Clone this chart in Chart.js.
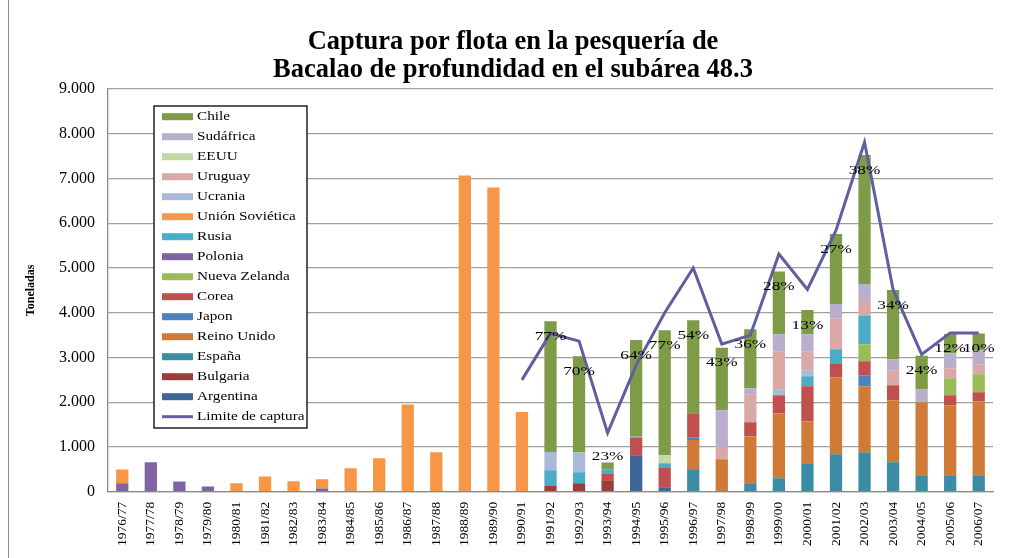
<!DOCTYPE html>
<html>
<head>
<meta charset="utf-8">
<script src="https://cdn.jsdelivr.net/npm/chart.js@4.4.1/dist/chart.umd.min.js"></script>
<style>
html,body{margin:0;padding:0;background:#fff;}
#wrap{position:relative;width:1013px;height:558px;}
#frame{position:absolute;left:8px;top:0;height:558px;border-left:1.5px solid #8c8c8c;}
</style>
</head>
<body>
<div id="wrap"><canvas id="c"></canvas><div id="frame"></div></div>
<script>
// temporadas
const seasons=['1976/77','1977/78','1978/79','1979/80','1980/81','1981/82','1982/83','1983/84','1984/85','1985/86',
  '1986/87','1987/88','1988/89','1989/90','1990/91','1991/92','1992/93','1993/94','1994/95','1995/96',
  '1996/97','1997/98','1998/99','1999/00','2000/01','2001/02','2002/03','2003/04','2004/05','2005/06','2006/07'];

// captura por flota (toneladas), 1976/77 .. 2006/07
const argentina=     [0,0,0,0,0,0,0,0,0,0,0,0,0,0,0, 0,0,0,816,100,0,0,0,0,0,0,0,0,0,0,0];
const bulgaria=      [0,0,0,0,0,0,0,0,0,0,0,0,0,0,0, 130,190,257,0,0,0,0,0,0,0,0,0,0,0,0,0];
const espana=        [0,0,0,0,0,0,0,0,0,0,0,0,0,0,0, 0,0,0,0,0,488,0,190,302,637,838,883,660,369,369,369];
const reinoUnido=    [0,0,0,0,0,0,0,0,0,0,0,0,0,0,0, 0,0,0,0,0,671,727,1051,1453,940,1722,1476,1386,1633,1565,1655];
const japon=         [0,0,0,0,0,0,0,0,0,0,0,0,0,0,0, 0,0,0,0,0,60,0,0,0,0,0,246,0,0,0,0];
const corea=         [0,0,0,0,0,0,0,0,0,0,0,0,0,0,0, 0,0,141,396,432,537,0,313,403,782,313,313,335,0,224,201];
const nuevaZelanda=  [0,0,0,0,0,0,0,0,0,0,0,0,0,0,0, 0,0,0,0,0,0,0,0,0,0,0,380,0,0,380,403];
const polonia=       [190,660,230,120,10,0,0,75,0,10,0,0,0,0,0, 0,0,0,0,0,0,0,0,0,0,0,0,0,0,0,0];
const rusia=         [0,0,0,0,0,0,0,0,0,0,0,0,0,0,0, 350,246,105,20,105,0,0,0,0,224,313,627,0,0,0,0];
const unionSovietica=[310,0,0,0,180,340,235,205,525,740,1950,880,7070,6800,1780, 0,0,0,0,0,0,0,0,0,0,0,0,0,0,0,0];
const ucrania=       [0,0,0,0,0,0,0,0,0,0,0,0,0,0,0, 410,447,0,0,0,0,0,0,134,134,0,0,0,0,0,0];
const uruguay=       [0,0,0,0,0,0,0,0,0,0,0,0,0,0,0, 0,0,0,0,0,0,253,626,850,425,694,335,336,0,224,223];
const eeuu=          [0,0,0,0,0,0,0,0,0,0,0,0,0,0,0, 0,0,0,0,179,0,0,0,0,0,0,0,0,0,0,0];
const sudafrica=     [0,0,0,0,0,0,0,0,0,0,0,0,0,0,0, 0,0,0,0,0,0,842,134,380,380,313,380,246,290,335,313];
const chile=         [0,0,0,0,0,0,0,0,0,0,0,0,0,0,0, 2920,2147,152,2158,2795,2079,1395,1320,1400,537,1565,2885,1543,745,430,370];

const limite=[null,null,null,null,null,null,null,null,null,null,null,null,null,null,2500,
  3540,3365,1315,2830,4000,5000,3300,3500,5310,4520,5840,7810,4520,3070,3550,3550];

// % de Chile sobre el total
const chilePct=[null,null,null,null,null,null,null,null,null,null,null,null,null,null,null,
  '77%','70%','23%','64%','77%','54%','43%','36%','28%','13%','27%','38%','34%','24%','12%','10%'];

const yTicks=[0,1000,2000,3000,4000,5000,6000,7000,8000,9000];

const fleets=[
  ['Argentina',argentina,'#3e6698'],
  ['Bulgaria',bulgaria,'#9c3d3b'],
  ['España',espana,'#3d8ca5'],
  ['Reino Unido',reinoUnido,'#cf7b37'],
  ['Japon',japon,'#4f81bd'],
  ['Corea',corea,'#c0504d'],
  ['Nueva Zelanda',nuevaZelanda,'#9bbb59'],
  ['Polonia',polonia,'#8064a2'],
  ['Rusia',rusia,'#4bacc6'],
  ['Unión Soviética',unionSovietica,'#f79646'],
  ['Ucrania',ucrania,'#a9bad9'],
  ['Uruguay',uruguay,'#dba8a8'],
  ['EEUU',eeuu,'#c4d7a8'],
  ['Sudáfrica',sudafrica,'#b9aecb'],
  ['Chile',chile,'#7e9b48']
];
const lineColor='#5f5f9f';
const serif='"Liberation Serif", "Times New Roman", serif';

function fmt(v){return String(v).replace(/\B(?=(\d{3})+(?!\d))/g,'.');}

function stretchText(ctx,txt,x,y,sx,align){
  ctx.save();
  ctx.translate(x,y);
  ctx.scale(sx,1);
  ctx.textAlign=align;
  ctx.fillText(txt,0,0);
  ctx.restore();
}

// porcentajes sobre las barras
const pctPlugin={
  id:'pct',
  afterDatasetsDraw(chart){
    const ctx=chart.ctx;
    const meta=chart.getDatasetMeta(fleets.length-1);
    ctx.save();
    ctx.font='13.5px '+serif;
    ctx.fillStyle='#000';
    ctx.textBaseline='middle';
    chilePct.forEach((t,i)=>{
      if(!t) return;
      const el=meta.data[i];
      const h=Math.abs(el.base-el.y);
      const y=h<12?el.y-6:el.y+15;
      stretchText(ctx,t,el.x,y,1.28,'center');
    });
    ctx.restore();
  }
};

// leyenda dentro del área
const legendPlugin={
  id:'boxLegend',
  afterDraw(chart){
    const ctx=chart.ctx;
    const bx=154,by=106,bw=153,bh=322;
    ctx.save();
    ctx.fillStyle='#fff';
    ctx.fillRect(bx,by,bw,bh);
    ctx.strokeStyle='#000';
    ctx.lineWidth=1.3;
    ctx.strokeRect(bx,by,bw,bh);
    const items=fleets.slice().reverse().map(f=>({label:f[0],color:f[2],line:false}));
    items.push({label:'Limite de captura',color:lineColor,line:true});
    ctx.font='12.5px '+serif;
    ctx.textBaseline='middle';
    items.forEach((it,i)=>{
      const y=116.7+i*20;
      if(it.line){
        ctx.strokeStyle=it.color;ctx.lineWidth=3;
        ctx.beginPath();ctx.moveTo(162,y);ctx.lineTo(193,y);ctx.stroke();
      }else{
        ctx.fillStyle=it.color;
        ctx.fillRect(162,y-3.5,31,7);
      }
      ctx.fillStyle='#000';
      stretchText(ctx,it.label,197,y,1.22,'left');
    });
    ctx.restore();
  }
};

const datasets=fleets.map(f=>({
  type:'bar',
  label:f[0],
  data:f[1],
  backgroundColor:f[2],
  borderWidth:0,
  barPercentage:0.43,
  categoryPercentage:1,
  order:1
}));
datasets.push({
  type:'line',
  label:'Limite de captura',
  data:limite,
  borderColor:lineColor,
  borderWidth:3,
  pointRadius:0,
  tension:0,
  stack:'limite',
  order:0
});

new Chart(document.getElementById('c'),{
  data:{labels:seasons,datasets},
  options:{
    responsive:true,
    maintainAspectRatio:false,
    animation:false,
    layout:{padding:{top:0,right:20,bottom:2,left:33}},
    plugins:{
      legend:{display:false},
      tooltip:{enabled:false},
      title:{
        display:true,
        text:['Captura por flota en la pesquería de','Bacalao de profundidad en el subárea 48.3'],
        color:'#000',
        font:{family:serif,size:26.5,weight:'bold',lineHeight:1.057},
        padding:{top:28,bottom:5}
      }
    },
    scales:{
      x:{
        stacked:true,
        grid:{display:false,drawTicks:false},
        border:{display:true,color:'#8a8a8a',width:1.3},
        ticks:{color:'#000',font:{family:serif,size:13.5},padding:10,minRotation:90,maxRotation:90,autoSkip:false}
      },
      y:{
        stacked:true,
        min:0,max:9000,
        afterFit(s){s.width=75;},
        afterBuildTicks(s){s.ticks=yTicks.map(v=>({value:v}));},
        grid:{color:'#a0a0a0',lineWidth:1.3,drawTicks:false},
        border:{display:true,color:'#8a8a8a',width:1.3},
        ticks:{color:'#000',font:{family:serif,size:16},padding:13,callback:v=>fmt(v)},
        title:{display:true,text:'Toneladas',color:'#000',font:{family:serif,size:12,weight:'bold'},padding:{top:-9,bottom:0}}
      }
    }
  },
  plugins:[pctPlugin,legendPlugin]
});
</script>
</body>
</html>
